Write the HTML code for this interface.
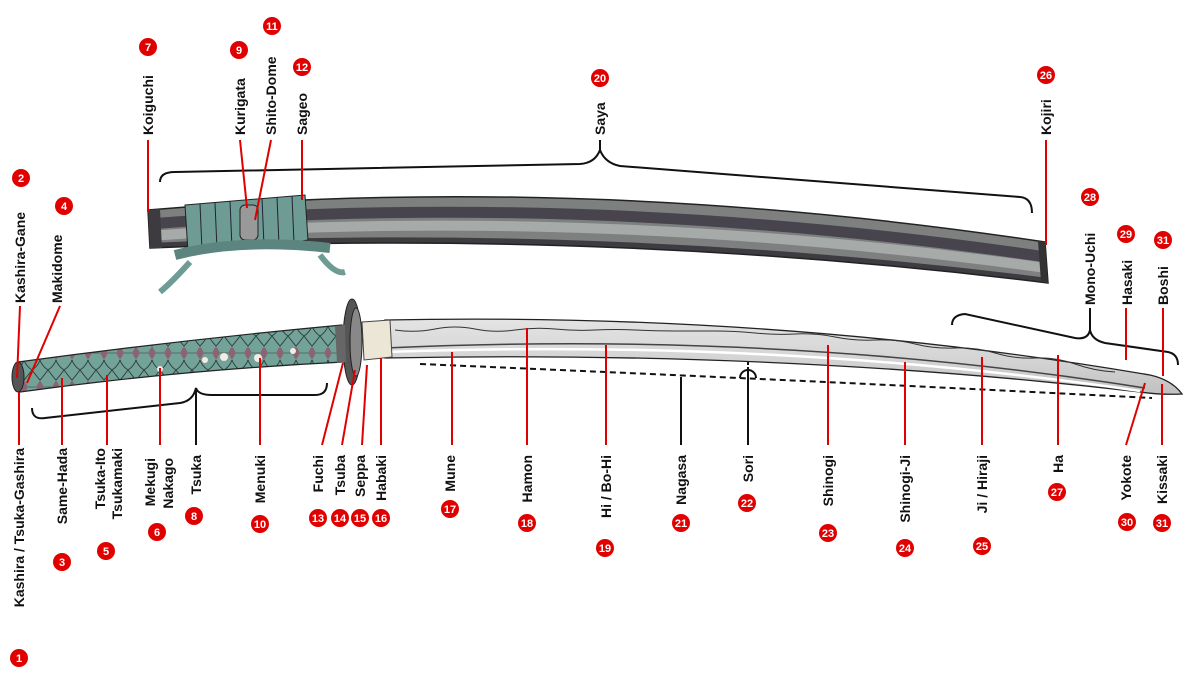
<!DOCTYPE html>
<html><head><meta charset="utf-8"><style>
html,body{margin:0;padding:0;background:#fff}
svg{display:block}
.t{font-family:"Liberation Sans",sans-serif;font-weight:bold;font-size:14px;fill:#111}
.b{font-family:"Liberation Sans",sans-serif;font-weight:bold;font-size:11px;fill:#fff;text-anchor:middle}
.r{stroke:#e00000;stroke-width:2;fill:none}
.k{stroke:#111;stroke-width:2;fill:none}
</style></head><body>
<svg width="1187" height="681" viewBox="0 0 1187 681" xmlns="http://www.w3.org/2000/svg">
<defs>
<linearGradient id="blade" x1="0" y1="0" x2="0" y2="1">
<stop offset="0" stop-color="#e4e4e4"/><stop offset="0.6" stop-color="#d2d2d2"/><stop offset="1" stop-color="#c0c0c0"/>
</linearGradient>
<pattern id="wrap" x="0" y="-4" width="16" height="34" patternUnits="userSpaceOnUse">
<rect width="16" height="34" fill="#73a299"/>
<path d="M8,10 L12,17 L8,24 L4,17Z" fill="#8a6470"/>
<path d="M0,0 Q6,8 8,10 M16,0 Q10,8 8,10 M8,24 Q6,30 0,34 M8,24 Q10,30 16,34" stroke="#2a3a38" stroke-width="0.9" fill="none"/>
<path d="M0,17 L4,17 M12,17 L16,17" stroke="#2a3a38" stroke-width="0.6"/>
</pattern>
<clipPath id="sc"><path d="M148,210 C400,188 700,190 1045,242 L1048,283 C700,240 400,238 150,248 Z"/></clipPath>
</defs>

<!-- Saya -->
<g clip-path="url(#sc)">
<rect x="140" y="180" width="920" height="110" fill="#7e8080"/>
<path d="M148,224 C400,204 700,206 1046,257" stroke="#48444e" stroke-width="11" fill="none"/>
<path d="M148,236 C400,218 700,220 1046,268" stroke="#a6aaa8" stroke-width="10" fill="none"/>
<path d="M148,247 C400,236 700,238 1048,282" stroke="#3e3c40" stroke-width="8" fill="none"/>
</g>
<path d="M148,210 C400,188 700,190 1045,242 L1048,283 C700,240 400,238 150,248 Z" fill="none" stroke="#222" stroke-width="1.5"/>
<path d="M1038,241 L1041,282 L1048,283 L1045,242Z" fill="#333"/>
<path d="M148,210 L160,209 L162,248 L150,248Z" fill="#3d3a40"/>
<!-- saya wrapping -->
<path d="M185,205 L305,195 L308,240 Q250,250 188,252 Z" fill="#6e9c94" stroke="#222" stroke-width="1"/>
<g stroke="#223" stroke-width="1">
<line x1="200" y1="204" x2="202" y2="250"/><line x1="215" y1="203" x2="217" y2="249"/><line x1="230" y1="201" x2="232" y2="248"/>
<line x1="262" y1="198" x2="264" y2="246"/><line x1="277" y1="197" x2="279" y2="245"/><line x1="292" y1="196" x2="294" y2="243"/>
</g>
<rect x="240" y="205" width="18" height="35" rx="5" fill="#999" stroke="#222"/>
<path d="M190,262 Q172,282 160,292 M320,255 Q335,275 345,272" stroke="#6e9c94" stroke-width="6" fill="none"/>
<path d="M175,255 Q240,238 330,248" stroke="#5b857e" stroke-width="10" fill="none"/>

<!-- Blade -->
<path d="M385,320 Q780,312 1150,375 Q1172,380 1182,394 Q1160,395 1140,392 Q780,350 385,358 Z" fill="url(#blade)" stroke="#222" stroke-width="1.3"/>
<path d="M385,348 Q780,330 1145,388" stroke="#444" stroke-width="1.5" fill="none"/>
<path d="M385,352 Q780,338 1140,391" stroke="#fff" stroke-width="2.5" fill="none"/>
<path d="M395,330 q20,3 40,-1 t40,0 t40,1 t40,-1 t40,1 t40,0 t40,1 t40,0 t40,2 t40,1 t40,3 t40,3 t40,4 t40,4 t40,5 t40,5 t40,6 t40,8" stroke="#333" stroke-width="1" fill="none"/>
<!-- Habaki -->
<path d="M362,322 L390,320 L392,357 L364,360 Z" fill="#ece6d6" stroke="#444"/>
<!-- Tsuba -->
<ellipse cx="352" cy="342" rx="9" ry="43" fill="#555" stroke="#222"/>
<ellipse cx="356" cy="342" rx="6" ry="34" fill="#888" stroke="#222"/>
<!-- Tsuka -->
<path d="M18,362 Q180,340 342,325 L344,362 Q180,370 20,392 Q10,380 18,362Z" fill="url(#wrap)" stroke="#222" stroke-width="1.2"/>
<path d="M335,326 L345,325 L346,362 L337,363Z" fill="#666"/>
<ellipse cx="18" cy="377" rx="6" ry="15" fill="#555" stroke="#222"/>
<g fill="#f3ece4"><circle cx="160" cy="369" r="3"/><circle cx="224" cy="357" r="4"/><circle cx="258" cy="358" r="4"/><circle cx="205" cy="360" r="3"/><circle cx="293" cy="351" r="3"/></g>

<!-- dashed nagasa -->
<path d="M420,364 Q800,380 1152,398" stroke="#111" stroke-width="2" stroke-dasharray="6,4" fill="none"/>
<path d="M740,378 a8,8 0 0 1 16,0" class="k"/>
<line x1="748" y1="362" x2="748" y2="370" stroke="#111" stroke-width="2" stroke-dasharray="3,2"/>

<!-- Brackets -->
<path d="M160,182 Q160,172 175,172 L580,164 Q595,163 600,150 Q605,163 620,166 L1020,197 Q1032,198 1032,213" class="k"/>
<path d="M32,408 Q32,420 45,418 L180,403 Q193,401 196,388 Q198,395 212,395 L315,395 Q327,395 327,383" class="k"/>
<path d="M952,325 Q952,315 965,314 L1075,338 Q1088,340 1090,330 Q1092,340 1105,343 L1168,352 Q1178,354 1178,365" class="k"/>

<!-- black leader lines -->
<g class="k">
<line x1="600" y1="140" x2="600" y2="152"/><line x1="196" y1="390" x2="196" y2="445"/>
<line x1="681" y1="377" x2="681" y2="445"/><line x1="748" y1="370" x2="748" y2="445"/>
<line x1="1090" y1="308" x2="1090" y2="330"/>
</g>
<!-- red leader lines -->
<g class="r">
<line x1="148" y1="140" x2="148" y2="212"/><line x1="240" y1="140" x2="247" y2="208"/><line x1="271" y1="140" x2="255" y2="220"/>
<line x1="302" y1="140" x2="302" y2="200"/><line x1="1046" y1="140" x2="1046" y2="245"/>
<line x1="20" y1="306" x2="17" y2="378"/><line x1="60" y1="306" x2="27" y2="383"/>
<line x1="19" y1="392" x2="19" y2="445"/><line x1="62" y1="378" x2="62" y2="445"/><line x1="107" y1="375" x2="107" y2="445"/>
<line x1="160" y1="368" x2="160" y2="445"/><line x1="260" y1="358" x2="260" y2="445"/>
<line x1="343" y1="363" x2="322" y2="445"/><line x1="355" y1="370" x2="342" y2="445"/>
<line x1="367" y1="365" x2="362" y2="445"/><line x1="381" y1="358" x2="381" y2="445"/>
<line x1="452" y1="352" x2="452" y2="445"/><line x1="527" y1="328" x2="527" y2="445"/>
<line x1="606" y1="345" x2="606" y2="445"/><line x1="828" y1="345" x2="828" y2="445"/>
<line x1="905" y1="362" x2="905" y2="445"/><line x1="982" y1="357" x2="982" y2="445"/>
<line x1="1058" y1="355" x2="1058" y2="445"/><line x1="1145" y1="383" x2="1126" y2="445"/>
<line x1="1162" y1="384" x2="1162" y2="445"/><line x1="1126" y1="308" x2="1126" y2="360"/>
<line x1="1163" y1="308" x2="1163" y2="376"/>
</g>

<!-- top labels -->
<g class="t">
<text transform="translate(25,303) rotate(-90)">Kashira-Gane</text>
<text transform="translate(62,303) rotate(-90)">Makidome</text>
<text transform="translate(153,135) rotate(-90)">Koiguchi</text>
<text transform="translate(245,135) rotate(-90)">Kurigata</text>
<text transform="translate(276,135) rotate(-90)">Shito-Dome</text>
<text transform="translate(307,135) rotate(-90)">Sageo</text>
<text transform="translate(605,135) rotate(-90)">Saya</text>
<text transform="translate(1051,135) rotate(-90)">Kojiri</text>
<text transform="translate(1095,305) rotate(-90)">Mono-Uchi</text>
<text transform="translate(1132,305) rotate(-90)">Hasaki</text>
<text transform="translate(1168,305) rotate(-90)">Boshi</text>
</g>
<!-- bottom labels -->
<g class="t" text-anchor="end">
<text transform="translate(24,448) rotate(-90)">Kashira / Tsuka-Gashira</text>
<text transform="translate(67,448) rotate(-90)">Same-Hada</text>
<text transform="translate(105,448) rotate(-90)">Tsuka-Ito</text>
<text transform="translate(122,448) rotate(-90)">Tsukamaki</text>
<text transform="translate(155,458) rotate(-90)">Mekugi</text>
<text transform="translate(173,458) rotate(-90)">Nakago</text>
<text transform="translate(201,455) rotate(-90)">Tsuka</text>
<text transform="translate(265,455) rotate(-90)">Menuki</text>
<text transform="translate(323,455) rotate(-90)">Fuchi</text>
<text transform="translate(345,455) rotate(-90)">Tsuba</text>
<text transform="translate(365,455) rotate(-90)">Seppa</text>
<text transform="translate(386,455) rotate(-90)">Habaki</text>
<text transform="translate(455,455) rotate(-90)">Mune</text>
<text transform="translate(532,455) rotate(-90)">Hamon</text>
<text transform="translate(611,455) rotate(-90)">Hi / Bo-Hi</text>
<text transform="translate(686,455) rotate(-90)">Nagasa</text>
<text transform="translate(753,455) rotate(-90)">Sori</text>
<text transform="translate(833,455) rotate(-90)">Shinogi</text>
<text transform="translate(910,455) rotate(-90)">Shinogi-Ji</text>
<text transform="translate(987,455) rotate(-90)">Ji / Hiraji</text>
<text transform="translate(1063,455) rotate(-90)">Ha</text>
<text transform="translate(1131,455) rotate(-90)">Yokote</text>
<text transform="translate(1167,455) rotate(-90)">Kissaki</text>
</g>

<!-- badges -->
<g fill="#e00000">
<circle cx="19" cy="658" r="9"/><circle cx="21" cy="178" r="9"/><circle cx="62" cy="562" r="9"/><circle cx="64" cy="206" r="9"/>
<circle cx="106" cy="551" r="9"/><circle cx="157" cy="532" r="9"/><circle cx="148" cy="47" r="9"/><circle cx="194" cy="516" r="9"/>
<circle cx="239" cy="50" r="9"/><circle cx="260" cy="524" r="9"/><circle cx="272" cy="26" r="9"/><circle cx="302" cy="67" r="9"/>
<circle cx="318" cy="518" r="9"/><circle cx="340" cy="518" r="9"/><circle cx="360" cy="518" r="9"/><circle cx="381" cy="518" r="9"/>
<circle cx="450" cy="509" r="9"/><circle cx="527" cy="523" r="9"/><circle cx="605" cy="548" r="9"/><circle cx="600" cy="78" r="9"/>
<circle cx="681" cy="523" r="9"/><circle cx="747" cy="503" r="9"/><circle cx="828" cy="533" r="9"/><circle cx="905" cy="548" r="9"/>
<circle cx="982" cy="546" r="9"/><circle cx="1046" cy="75" r="9"/><circle cx="1057" cy="492" r="9"/><circle cx="1090" cy="197" r="9"/>
<circle cx="1126" cy="234" r="9"/><circle cx="1127" cy="522" r="9"/><circle cx="1163" cy="240" r="9"/><circle cx="1162" cy="523" r="9"/>
</g>
<g class="b">
<text x="19" y="662">1</text><text x="21" y="182">2</text><text x="62" y="566">3</text><text x="64" y="210">4</text>
<text x="106" y="555">5</text><text x="157" y="536">6</text><text x="148" y="51">7</text><text x="194" y="520">8</text>
<text x="239" y="54">9</text><text x="260" y="528">10</text><text x="272" y="30">11</text><text x="302" y="71">12</text>
<text x="318" y="522">13</text><text x="340" y="522">14</text><text x="360" y="522">15</text><text x="381" y="522">16</text>
<text x="450" y="513">17</text><text x="527" y="527">18</text><text x="605" y="552">19</text><text x="600" y="82">20</text>
<text x="681" y="527">21</text><text x="747" y="507">22</text><text x="828" y="537">23</text><text x="905" y="552">24</text>
<text x="982" y="550">25</text><text x="1046" y="79">26</text><text x="1057" y="496">27</text><text x="1090" y="201">28</text>
<text x="1126" y="238">29</text><text x="1127" y="526">30</text><text x="1163" y="244">31</text><text x="1162" y="527">31</text>
</g>
</svg>
</body></html>
